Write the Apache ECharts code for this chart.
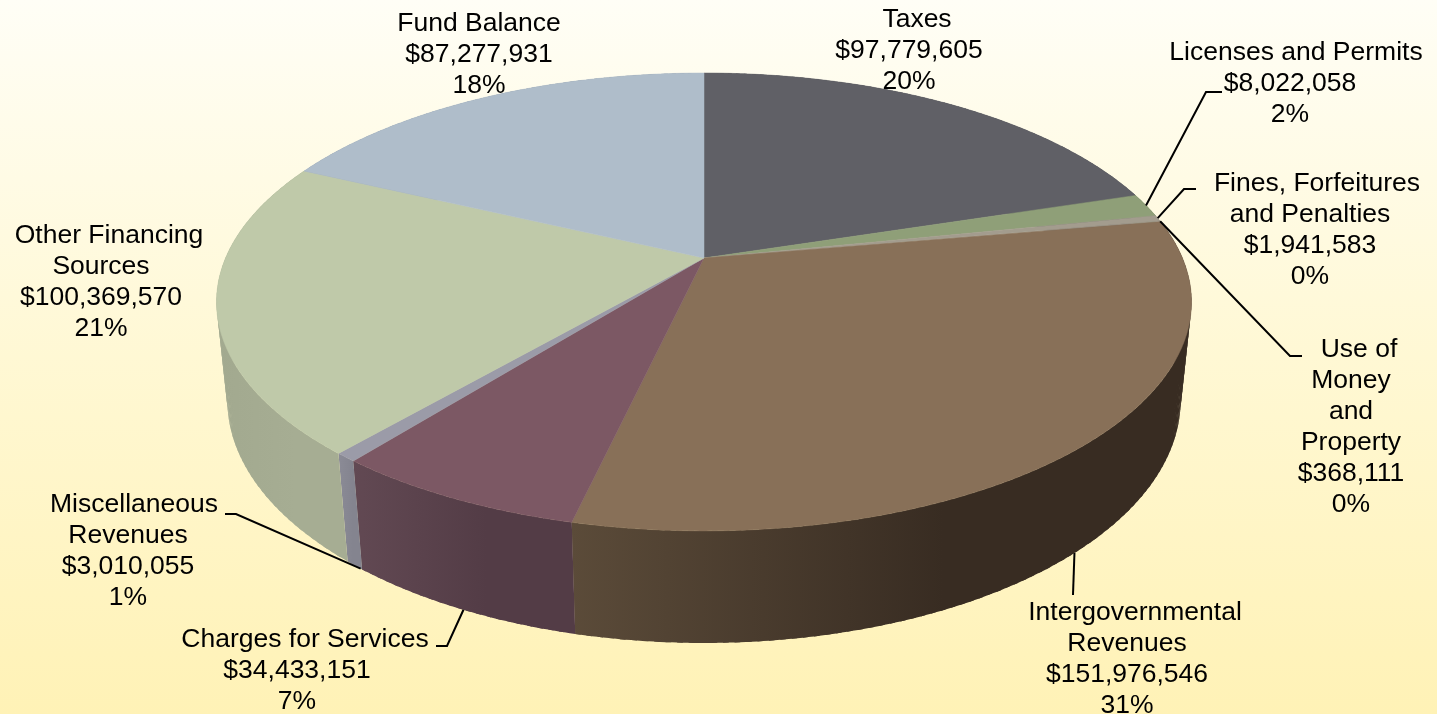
<!DOCTYPE html>
<html>
<head>
<meta charset="utf-8">
<title>Revenues</title>
<style>
html, body { margin: 0; padding: 0; }
#chart { width: 1437px; height: 714px; }
</style>
<script src="https://cdn.jsdelivr.net/npm/echarts@6/dist/echarts.min.js"></script>
</head>
<body>
<div id="chart"></div>
<script>
var categories = [
	['Taxes'],
	['Licenses and Permits'],
	['Fines, Forfeitures', 'and Penalties'],
	['Use of', 'Money', 'and', 'Property'],
	['Intergovernmental', 'Revenues'],
	['Charges for Services'],
	['Miscellaneous', 'Revenues'],
	['Other Financing', 'Sources'],
	['Fund Balance']
];
var amounts = [97779605, 8022058, 1941583, 368111, 151976546, 34433151, 3010055, 100369570, 87277931];
var topColors = ['#606066', '#8f9f78', '#a39c8e', '#a39c8e', '#887058', '#7c5864', '#9b9ba8', '#bfc9a9', '#afbdca'];
var sideColors = [
	['#4c4c52', '#4c4c52'],
	['#72805f', '#72805f'],
	['#827c70', '#827c70'],
	['#827c70', '#827c70'],
	['#5b4b39', '#382c22'],
	['#624953', '#533c46'],
	['#8b8b96', '#84848f'],
	['#a2a98f', '#a6ad93'],
	['#8c98a2', '#8c98a2']
];

// label anchor: x = centre of the text block, y = middle of first line
var labelPlaces = [
	{x: 909, y: 20, firstDx: 8},
	{x: 1290, y: 53, firstDx: 6},
	{x: 1310, y: 184, firstDx: 7},
	{x: 1351, y: 350, firstDx: 8},
	{x: 1127, y: 613, firstDx: 8},
	{x: 297, y: 640, firstDx: 8},
	{x: 128, y: 505, firstDx: 6},
	{x: 101, y: 236, firstDx: 8},
	{x: 479, y: 24, firstDx: 0}
];
// leader lines run from the rim of the slice through these bends (null = no line)
var leaderBends = [
	null,
	[[1206, 92], [1222, 92]],
	[[1184, 189], [1196, 189]],
	[[1290, 356], [1302, 356]],
	[[1073, 595]],
	[[447, 646], [436, 646]],
	[[236, 514], [225, 514]],
	null,
	null
];
// where along its slice's arc each leader starts
var leaderFrac = [0.5, 0.5, 0.5, 0.5, 0.503, 0.48, 0.1, 0.5, 0.5];

var total = amounts.reduce(function(a, b) { return a + b; }, 0);

// tilted pie projection
var cx = 704, cy = 258;
var radX = 478.4, radY = 220.5, persp = 0.192;
var depth = 99, depthPersp = 0.022;

var project = function(angle, bottom) {
	var u = Math.sin(angle), v = Math.cos(angle);
	var w = 1 + persp * v + (bottom ? depthPersp : 0);
	return [cx + radX * u / w, cy - (radY * v + (bottom ? -depth : 0)) / w];
};

var sliceAngles = function(i) {
	var before = 0;
	for (var k = 0; k < i; k++) before += amounts[k];
	return [before / total * Math.PI * 2, (before + amounts[i]) / total * Math.PI * 2];
};

var arcPoints = function(a0, a1, bottom) {
	var n = Math.max(2, Math.ceil((a1 - a0) / 0.01));
	var pts = [];
	for (var j = 0; j <= n; j++) pts.push(project(a0 + (a1 - a0) * j / n, bottom));
	return pts;
};

// the side is built from thin quads so the silhouette joins both rims,
// each one overlaps the next so no seams show
var renderSide = function(params, api) {
	var i = params.dataIndex;
	var a = sliceAngles(i);
	var upper = arcPoints(a[0], a[1], false);
	var lower = arcPoints(a[0], a[1], true);
	var xs = upper.concat(lower).map(function(p) { return p[0]; });
	var minX = Math.min.apply(null, xs), maxX = Math.max.apply(null, xs);
	var fill = new echarts.graphic.LinearGradient(minX, 0, maxX, 0, [
		{offset: 0, color: sideColors[i][0]},
		{offset: 0.6, color: sideColors[i][1]},
		{offset: 1, color: sideColors[i][1]}
	], true);
	var quads = [];
	for (var j = 0; j < upper.length - 1; j += 2) {
		var end = Math.min(j + 3, upper.length - 1);
		quads.push({
			type: 'polygon',
			shape: {points: upper.slice(j, end + 1).concat(lower.slice(j, end + 1).reverse())},
			style: {fill: fill}
		});
	}
	return {type: 'group', children: quads};
};

var renderTop = function(params, api) {
	var i = params.dataIndex;
	var a = sliceAngles(i);
	var pts = [[cx, cy]].concat(arcPoints(a[0], a[1], false));
	return {
		type: 'polygon',
		shape: {points: pts},
		style: {fill: topColors[i], stroke: topColors[i], lineWidth: 0.5}
	};
};

var renderLabel = function(params, api) {
	var i = params.dataIndex;
	var place = labelPlaces[i];
	var lines = categories[i].concat([
		'$' + amounts[i].toLocaleString('en-US'),
		Math.round(amounts[i] / total * 100) + '%'
	]);
	var children = lines.map(function(line, k) {
		return {
			type: 'text',
			style: {
				x: place.x + (k === 0 ? place.firstDx : 0),
				y: place.y + k * 31,
				text: line,
				fill: '#000',
				font: '26.5px "Liberation Sans", Arial, sans-serif',
				align: 'center',
				verticalAlign: 'middle'
			}
		};
	});
	if (leaderBends[i]) {
		var a = sliceAngles(i);
		var at = a[0] + (a[1] - a[0]) * leaderFrac[i];
		// front slices start the line at the lower rim
		var start = project(at, Math.cos(at) < -0.1);
		children.push({
			type: 'polyline',
			shape: {points: [start].concat(leaderBends[i])},
			style: {fill: null, stroke: '#000', lineWidth: 2}
		});
	}
	return {type: 'group', children: children};
};

var customSeries = function(renderItem) {
	return {
		type: 'custom',
		coordinateSystem: 'none',
		renderItem: renderItem,
		data: amounts,
		silent: true,
		animation: false
	};
};

var myChart = echarts.init(document.getElementById('chart'));
myChart.setOption({
	animation: false,
	backgroundColor: new echarts.graphic.LinearGradient(0, 0, 0, 1, [
		{offset: 0, color: '#fffef6'},
		{offset: 0.5, color: '#fff8d4'},
		{offset: 1, color: '#fff2b6'}
	]),
	series: [customSeries(renderSide), customSeries(renderTop), customSeries(renderLabel)]
});
</script>
</body>
</html>
